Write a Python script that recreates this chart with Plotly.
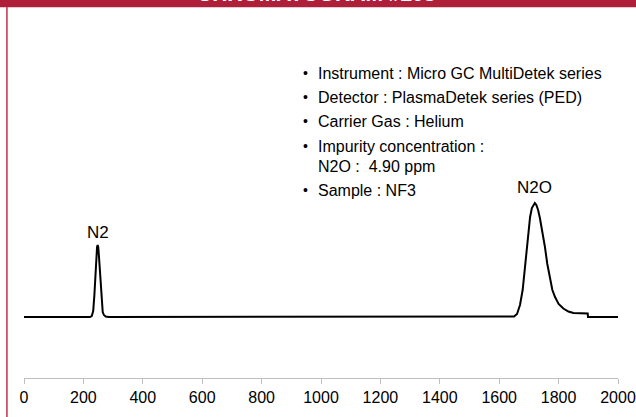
import plotly.graph_objects as go

# Chromatogram trace (retention time, signal)
time = [0, 222, 228, 233, 237, 240, 243, 246, 248, 250, 253, 256, 259, 262, 265, 269, 275, 285,
        1640, 1650, 1660, 1670, 1679, 1686, 1693, 1699, 1704, 1710, 1716, 1720, 1725, 1731, 1737,
        1745, 1754, 1762, 1771, 1779, 1788, 1800, 1816, 1833, 1850, 1870, 1898, 1899, 2000]
signal = [0, 0, 1, 6, 22, 42, 60, 70, 72, 70, 58, 42, 24, 11, 5, 2, 0.5, 0,
          0, 0.5, 3, 12, 27, 47, 70, 88, 100, 109, 113, 114, 112, 107, 99,
          86, 70, 53, 37, 27, 20, 13, 8.5, 5.5, 4, 3.5, 3.5, 0, 0]

peak_names = ["N2", "N2O"]
peak_times = [248, 1720]
peak_heights = [72, 114]

x_ticks = [0, 200, 400, 600, 800, 1000, 1200, 1400, 1600, 1800, 2000]
x_tick_labels = ["0", "200", "400", "600", "800", "1000", "1200", "1400", "1600", "1800", "2000"]

title_text = "CHROMATOGRAM #203"
info_lines = ["Instrument : Micro GC MultiDetek series",
              "Detector : PlasmaDetek series (PED)",
              "Carrier Gas : Helium",
              "Impurity concentration :",
              "N2O :  4.90 ppm",
              "Sample : NF3"]
info_bullets = [True, True, True, True, False, True]

W, H = 636, 417
ML, MR, MT, MB = 24, 18, 40, 39
PW = W - ML - MR
PH = H - MT - MB


def px(xp):
    return (xp - ML) / PW


def py(yp):
    return (H - MB - yp) / PH


FONT = "Liberation Sans, Arial, sans-serif"
RED = "#ae1f3a"

fig = go.Figure()
fig.add_trace(go.Scatter(x=time, y=signal, mode="lines",
                         line=dict(color="black", width=2), hoverinfo="skip",
                         showlegend=False))

annotations = []
for name, t, h, ys in zip(peak_names, peak_times, peak_heights, [1, 4]):
    annotations.append(dict(x=t, y=h, xref="x", yref="y", text=name, showarrow=False,
                            yanchor="bottom", yshift=ys,
                            font=dict(family=FONT, size=17, color="black")))

line_y = [73, 97, 121, 146, 166.5, 190]
for txt, bul, yy in zip(info_lines, info_bullets, line_y):
    annotations.append(dict(x=px(315.5), y=py(yy), xref="paper", yref="paper", text=txt,
                            showarrow=False, xanchor="left", yanchor="middle",
                            font=dict(family=FONT, size=16, color="black")))
    if bul:
        annotations.append(dict(x=px(305), y=py(yy), xref="paper", yref="paper", text="•",
                                showarrow=False, xanchor="center", yanchor="middle",
                                font=dict(family=FONT, size=14, color="black")))

annotations.append(dict(x=px(316), y=py(-6), xref="paper", yref="paper", text="<b>" + title_text + "</b>",
                        showarrow=False, xanchor="center", yanchor="middle",
                        font=dict(family=FONT, size=21, color="white")))

shapes = [
    dict(type="rect", xref="paper", yref="paper", x0=px(0), x1=px(W), y0=py(7.3), y1=py(-5),
         fillcolor=RED, line=dict(width=0), layer="below"),
    dict(type="rect", xref="paper", yref="paper", x0=px(6), x1=px(7.8), y0=py(H + 2), y1=py(7),
         fillcolor="#c65468", line=dict(width=0), layer="below"),
]

fig.update_layout(
    width=W, height=H,
    margin=dict(l=ML, r=MR, t=MT, b=MB, pad=0, autoexpand=False),
    paper_bgcolor="white", plot_bgcolor="white",
    showlegend=False,
    annotations=annotations,
    shapes=shapes,
    xaxis=dict(range=[0, 2000], tickvals=x_ticks, ticktext=x_tick_labels,
               automargin=False,
               showgrid=False, zeroline=False, showline=True, linecolor="#bfbfbf", linewidth=1,
               ticks="outside", ticklen=5, tickcolor="#bfbfbf",
               tickfont=dict(family=FONT, size=16, color="black")),
    yaxis=dict(range=[-61, 277], visible=False, showgrid=False, zeroline=False, automargin=False),
)

fig.write_html("out.html", config={"displayModeBar": False},
               post_script="document.body.style.margin='0px';document.body.style.overflow='hidden';")
